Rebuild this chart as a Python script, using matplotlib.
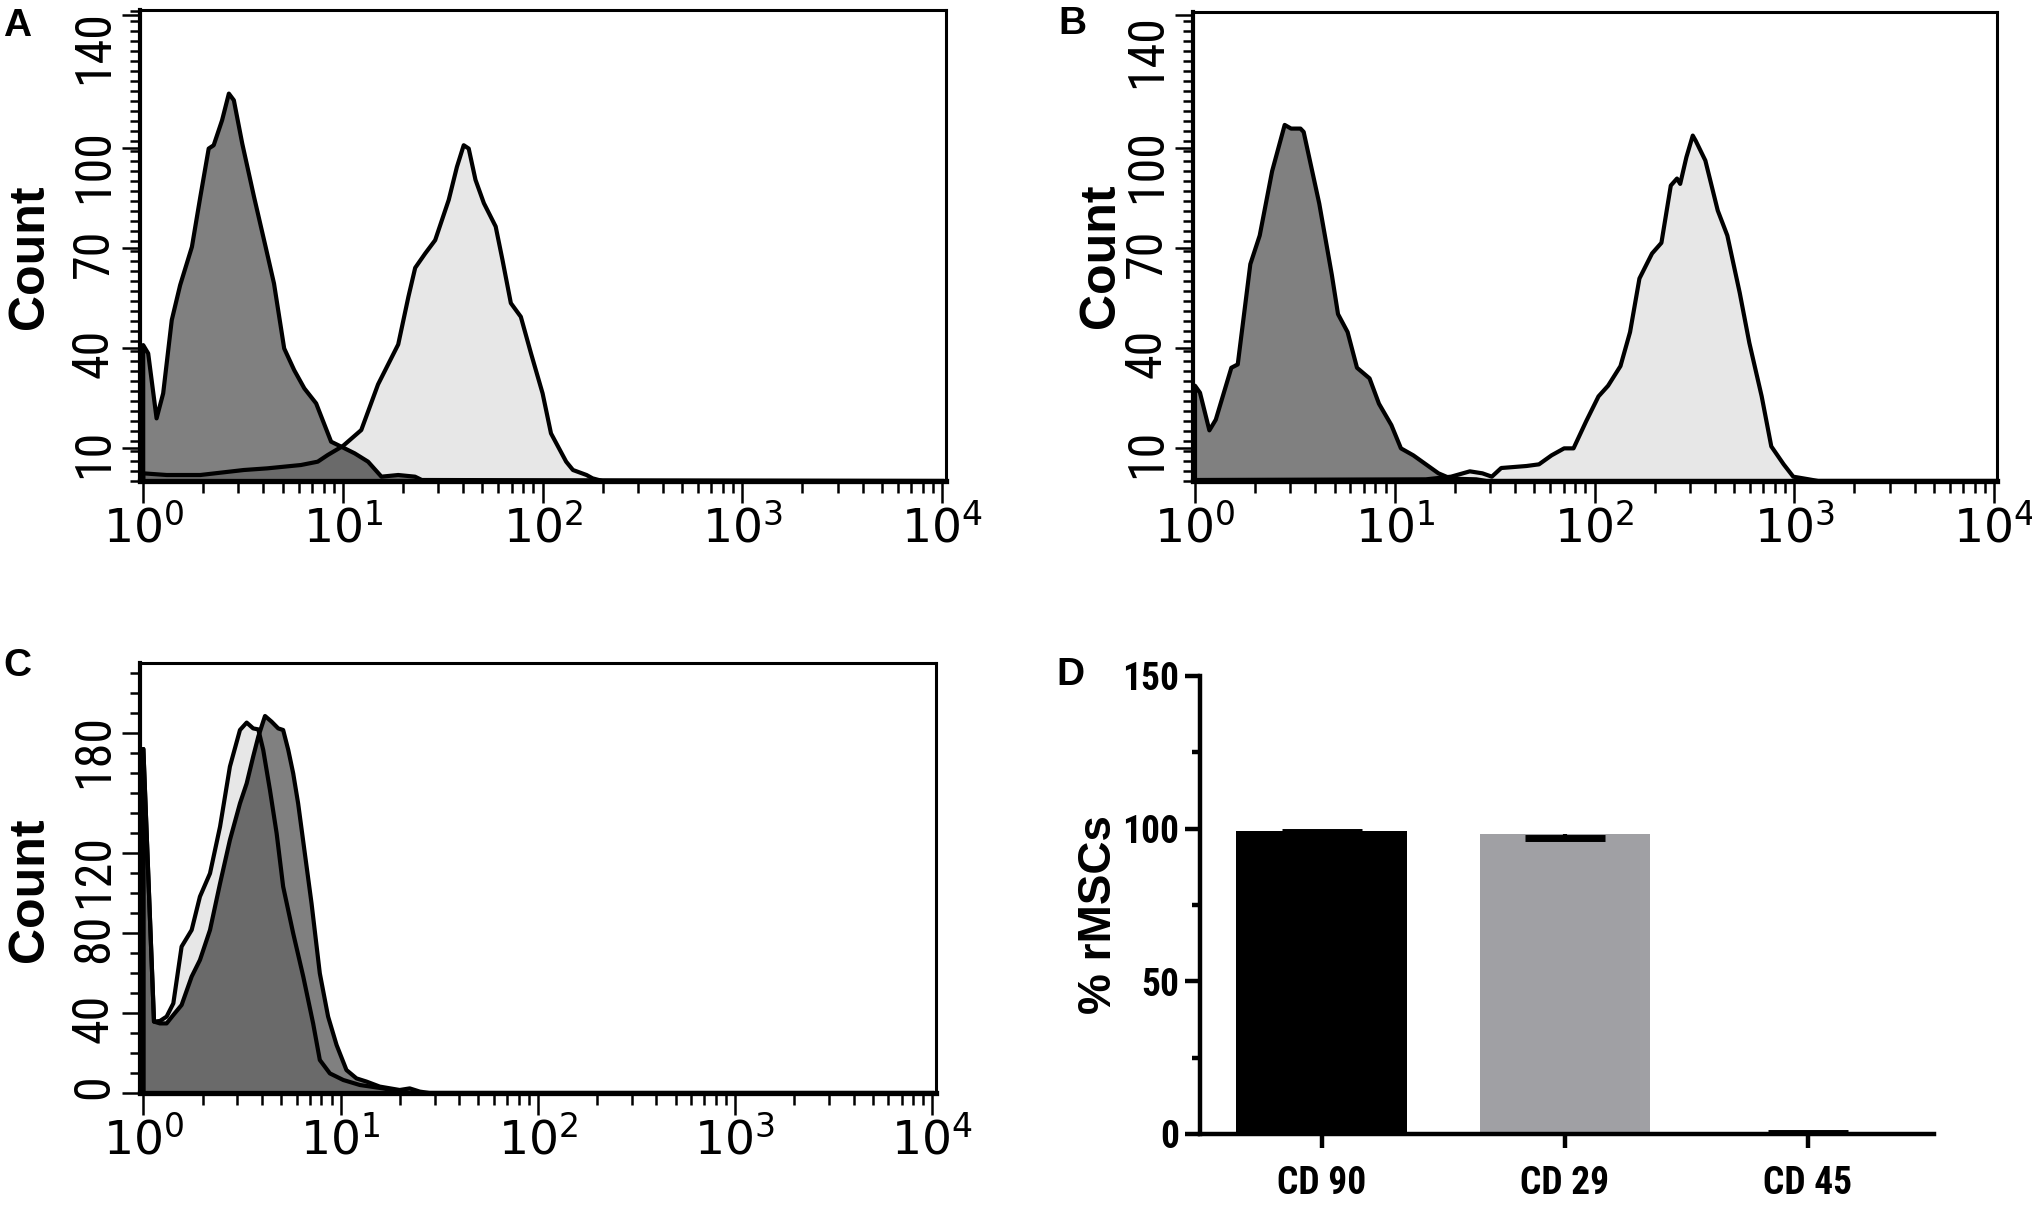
import numpy as np
import matplotlib
matplotlib.use("Agg")
import matplotlib.pyplot as plt
from matplotlib import font_manager
from matplotlib.transforms import blended_transform_factory, offset_copy
from matplotlib.ticker import FixedLocator, LogLocator, MultipleLocator, NullFormatter, FixedFormatter

# ---------------- data ----------------
# Panel A: isotype (dark) and CD90 (light); x as log10 fluorescence, y count
a_iso_log = [0, 0.025, 0.067, 0.10, 0.143, 0.185, 0.244, 0.286, 0.328, 0.353, 0.395, 0.429, 0.454,
             0.496, 0.555, 0.613, 0.655, 0.706, 0.756, 0.807, 0.866, 0.941, 0.992, 1.059, 1.126,
             1.193, 1.277, 1.361, 1.395, 4.0]
a_iso_cnt = [40.8, 38.3, 18.8, 26.3, 48.3, 58.8, 70.3, 85.3, 99.8, 100.8, 108.3, 116.3, 114.3,
             101.3, 85.3, 70.3, 59.3, 39.8, 33.3, 27.8, 23.3, 11.8, 10.3, 8.3, 5.8,
             1.3, 1.8, 1.3, 0.3, 0]
a_cd90_log = [0, 0.118, 0.286, 0.504, 0.622, 0.790, 0.874, 0.924, 1.0, 1.092, 1.176, 1.277, 1.328,
              1.362, 1.412, 1.462, 1.53, 1.571, 1.605, 1.630, 1.664, 1.706, 1.765, 1.799, 1.841,
              1.891, 1.942, 2.0, 2.042, 2.118, 2.152, 2.22, 2.25, 2.30, 4.0]
a_cd90_cnt = [2.3, 1.8, 1.8, 3.3, 3.8, 4.8, 5.8, 7.8, 10.5, 15.3, 29.0, 41.0, 55.3,
              64.0, 68.3, 72.3, 84.4, 94.3, 100.8, 99.8, 90.4, 83.4, 76.4, 66.4, 53.4,
              49.3, 38.3, 26.3, 14.3, 5.8, 3.3, 1.8, 0.8, 0, 0]

# Panel B: isotype (dark) and CD29 (light)
b_iso_log = [0, 0.025, 0.072, 0.104, 0.182, 0.214, 0.277, 0.324, 0.386, 0.449, 0.481, 0.528, 0.544,
             0.622, 0.685, 0.716, 0.764, 0.811, 0.874, 0.921, 0.983, 1.031, 1.093, 1.156, 1.219,
             1.282, 1.408, 1.46, 4.0]
b_iso_cnt = [28.6, 26.5, 15.2, 18.4, 34.0, 35.0, 65.1, 73.7, 93.0, 106.9, 105.8, 105.8, 104.8,
             83.3, 61.9, 50.1, 44.7, 34.0, 30.8, 23.2, 16.8, 9.8, 7.7, 5.0, 2.3,
             0.7, 0.5, 0, 0]
b_cd29_log = [0, 1.156, 1.282, 1.376, 1.439, 1.486, 1.533, 1.659, 1.722, 1.785, 1.848, 1.895, 1.958,
              2.020, 2.068, 2.130, 2.178, 2.225, 2.288, 2.335, 2.382, 2.413, 2.429, 2.460, 2.492,
              2.507, 2.555, 2.617, 2.665, 2.727, 2.775, 2.837, 2.885, 2.947, 2.995, 3.073, 3.12, 4.0]
b_cd29_cnt = [0.3, 0.5, 1.3, 2.9, 2.3, 1.3, 3.9, 4.5, 5.0, 7.7, 9.8, 9.8, 17.9,
              25.4, 28.6, 34.5, 44.7, 60.8, 68.3, 71.5, 88.7, 90.8, 89.2, 97.2, 103.7,
              102.1, 96.2, 81.2, 73.7, 56.5, 41.5, 25.4, 10.4, 5.0, 1.3, 0.5, 0, 0]

# Panel C: isotype (dark) and CD45 (light)
c_iso_log = [0, 0.054, 0.084, 0.118, 0.152, 0.194, 0.245, 0.287, 0.338, 0.389, 0.439, 0.490, 0.524,
             0.557, 0.583, 0.617, 0.650, 0.684, 0.709, 0.735, 0.760, 0.785, 0.819, 0.853, 0.895,
             0.937, 0.980, 1.030, 1.081, 1.132, 1.199, 1.30, 1.351, 1.402, 1.45, 4.0]
c_iso_cnt = [172, 35.7, 34.8, 34.8, 39, 44, 58.2, 66.5, 81.5, 104.8, 126.5, 144.8, 154.8,
             168.2, 178.2, 188.5, 185.7, 182.3, 181.5, 171.5, 159.8, 144.8, 119.8, 94.8, 59.8,
             38.2, 24, 11.5, 7.3, 5.7, 3.2, 1.5, 2.3, 0.7, 0, 0]
c_cd45_log = [0, 0.054, 0.084, 0.118, 0.152, 0.194, 0.245, 0.287, 0.338, 0.389, 0.439, 0.490, 0.524,
              0.557, 0.583, 0.608, 0.642, 0.676, 0.709, 0.760, 0.811, 0.861, 0.895, 0.946, 1.014,
              1.098, 1.216, 1.30, 1.35, 4.0]
c_cd45_cnt = [172, 35.7, 36, 38.2, 44.8, 73.2, 81.5, 98.2, 109.8, 133.2, 163.2, 181.5, 185.2,
              182.3, 181.8, 171.5, 151.5, 129.8, 103.2, 79.8, 58.2, 34.8, 16.5, 9.8, 6.5,
              4, 2.3, 0.7, 0, 0]

# Panel D: % rMSCs
d_categories = ["CD 90", "CD 29", "CD 45"]
d_means = [99.3, 98.2, 0.9]
d_err_low = [0.3, 1.1, 0.5]

# axis tick labels
ab_yticks = [10, 40, 70, 100, 140]
c_yticks = [0, 40, 80, 120, 180]
d_yticks = [0, 50, 100, 150]

# ---------------- fonts ----------------
FL = font_manager.fontManager.ttflist
FAMS = {f.name for f in FL}

def _w(f):
    w = f.weight
    if isinstance(w, str):
        return 700 if "bold" in w.lower() else 400
    return w

def pick_file(cands, bold):
    for c in cands:
        ents = [f for f in FL if f.name == c and f.style == "normal"]
        if not ents:
            continue
        if bold:
            b = [f for f in ents if _w(f) >= 700]
            if b:
                b.sort(key=lambda f: abs(_w(f) - 700))
                return b[0].fname
        else:
            r = [f for f in ents if _w(f) == 400]
            if r:
                return r[0].fname
    return None

NARROW_REG = pick_file(["Liberation Sans Narrow", "Roboto Condensed", "Archivo Narrow",
                        "Barlow Semi Condensed", "Barlow Condensed"], bold=False)
NARROW_BOLD = pick_file(["Liberation Sans Narrow", "Roboto Condensed", "Arimo Narrow",
                         "Barlow Semi Condensed", "Barlow Condensed", "Asap Condensed"], bold=True)
SANS = "Liberation Sans" if "Liberation Sans" in FAMS else "DejaVu Sans"

def fp_narrow(size, bold=False):
    fn = NARROW_BOLD if bold else NARROW_REG
    if fn:
        return font_manager.FontProperties(fname=fn, size=size)
    return font_manager.FontProperties(family="DejaVu Sans", size=size * 0.8,
                                       weight="bold" if bold else "normal")

plt.rcParams["font.family"] = ["DejaVu Sans"]
plt.rcParams["mathtext.fontset"] = "dejavusans"

W, H = 2033, 1208
fig = plt.figure(figsize=(W / 100, H / 100), dpi=100)

def rect(l, r, t, b):
    return [l / W, (H - b) / H, (r - l) / W, (b - t) / H]

LIGHT = "#e7e7e7"
DARK = "#808080"
OVER = "#6a6a6a"
YLAB_SIZE = 36

def histo(ax, log_l, cnt_l, log_d, cnt_d, xlim_log, ylim, yticks, ymin_step, top_label_y=None):
    xl = np.r_[10 ** np.array(log_l[:1]), 10 ** np.array(log_l)]
    yl = np.r_[0, np.array(cnt_l)]
    xd = np.r_[10 ** np.array(log_d[:1]), 10 ** np.array(log_d)]
    yd = np.r_[0, np.array(cnt_d)]
    ax.set_xscale("log")
    ax.fill_between(xl, yl, 0, color=LIGHT, lw=0, zorder=1)
    pd = ax.fill_between(xd, yd, 0, color=DARK, lw=0, zorder=1.1)
    ov = ax.fill_between(xl, yl, 0, color=OVER, lw=0, zorder=1.2)
    ov.set_clip_path(pd.get_paths()[0], pd.get_transform())
    ax.plot(xl, yl, color="black", lw=3.0, zorder=2, solid_joinstyle="round")
    ax.plot(xd, yd, color="black", lw=3.0, zorder=2, solid_joinstyle="round")
    ax.set_xlim(10 ** xlim_log[0], 10 ** xlim_log[1])
    ax.set_ylim(*ylim)
    ax.xaxis.set_major_locator(FixedLocator([1, 10, 100, 1000, 10000]))
    ax.xaxis.set_minor_locator(LogLocator(base=10, subs=np.arange(2, 10), numticks=20))
    ax.xaxis.set_minor_formatter(NullFormatter())
    ax.xaxis.set_major_formatter(FixedFormatter([r"$10^{0}$", r"$10^{1}$", r"$10^{2}$", r"$10^{3}$", r"$10^{4}$"]))
    ax.yaxis.set_major_locator(FixedLocator(yticks))
    labels = [str(v) for v in yticks]
    if top_label_y is not None:
        labels[-1] = ""
    ax.yaxis.set_major_formatter(FixedFormatter(labels))
    ax.yaxis.set_minor_locator(MultipleLocator(ymin_step))
    ax.tick_params(axis="x", which="major", direction="out", length=16, width=1.8, pad=1,
                   labelsize=34, top=False)
    ax.tick_params(axis="x", which="minor", direction="out", length=8.5, width=1.8, top=False)
    ax.tick_params(axis="y", which="major", direction="out", length=13, width=1.8, pad=3,
                   labelrotation=90, right=False)
    ax.tick_params(axis="y", which="minor", direction="out", length=7, width=1.8, right=False)
    for lab in ax.get_yticklabels():
        lab.set_fontproperties(fp_narrow(YLAB_SIZE))
    if top_label_y is not None:
        # the top label is pushed down inside the frame, as in the original
        tr = offset_copy(blended_transform_factory(ax.transAxes, ax.transAxes), fig=fig,
                         x=-(13 + 3), y=0, units="points")
        ax.text(0, top_label_y, str(yticks[-1]), transform=tr, rotation=90,
                ha="right", va="center", fontproperties=fp_narrow(YLAB_SIZE))
    ax.spines["top"].set_linewidth(2.2)
    ax.spines["right"].set_linewidth(2.2)
    ax.spines["left"].set_linewidth(3.0)
    ax.spines["bottom"].set_linewidth(3.8)
    for s in ax.spines.values():
        s.set_zorder(3)

# Panel A
axA = fig.add_axes(rect(140, 946, 10, 481))
histo(axA, a_cd90_log, a_cd90_cnt, a_iso_log, a_iso_cnt, (-0.016, 4.02), (0, 141.4),
      ab_yticks, 3, top_label_y=0.921)
axA.set_ylabel("Count", family=SANS, weight="bold", size=36)
axA.yaxis.set_label_coords(-0.108, 0.476)

# Panel B
axB = fig.add_axes(rect(1193, 1997, 12, 481))
histo(axB, b_cd29_log, b_cd29_cnt, b_iso_log, b_iso_cnt, (-0.01, 4.015), (0, 140.8),
      ab_yticks, 3, top_label_y=0.917)
axB.set_ylabel("Count", family=SANS, weight="bold", size=36)
axB.yaxis.set_label_coords(-0.086, 0.48)

# Panel C
axC = fig.add_axes(rect(140, 936, 663, 1093))
histo(axC, c_cd45_log, c_cd45_cnt, c_iso_log, c_iso_cnt, (-0.017, 4.02), (0, 215),
      c_yticks, 10)
axC.set_ylabel("Count", family=SANS, weight="bold", size=36)
axC.yaxis.set_label_coords(-0.109, 0.472)

# Panel D
axD = fig.add_axes(rect(1200, 1934, 676, 1134))
xpos = np.arange(len(d_categories))
bar_colors = ["#000000", "#a0a0a4", "#ffffff"]
axD.bar(xpos, d_means, width=0.7, color=bar_colors, zorder=1)
for xi, m, lo in zip(xpos, d_means, d_err_low):
    eb = axD.errorbar([xi], [m], yerr=[[lo], [0]], fmt="none", ecolor="black",
                      elinewidth=3, capsize=28.5, capthick=5, zorder=2)
    for cl in eb[1]:
        if np.allclose(cl.get_ydata(), m):
            cl.set_visible(False)
axD.set_xlim(-0.5, 2.52)
axD.set_ylim(0, 150)
axD.set_xticks(xpos)
axD.set_xticklabels(d_categories)
axD.set_yticks(d_yticks)
axD.set_yticklabels([str(v) for v in d_yticks])
axD.yaxis.set_minor_locator(FixedLocator([25, 75, 125]))
axD.spines["top"].set_visible(False)
axD.spines["right"].set_visible(False)
axD.spines["left"].set_linewidth(3.2)
axD.spines["bottom"].set_linewidth(3.2)
axD.spines["left"].set_zorder(3)
axD.spines["bottom"].set_zorder(3)
axD.tick_params(axis="y", which="major", direction="out", length=11, width=3.2, pad=4)
axD.tick_params(axis="y", which="minor", direction="out", length=6, width=3.2)
axD.tick_params(axis="x", which="major", direction="out", length=10, width=3.2, pad=12)
for lab in axD.get_yticklabels() + axD.get_xticklabels():
    lab.set_fontproperties(fp_narrow(27, bold=True))
axD.set_ylabel("% rMSCs", family=SANS, weight="bold", size=33)
axD.yaxis.set_label_coords(-0.108, 0.48)

# Panel letters
for letter, (px, py) in zip("ABCD", [(17, 26), (1072, 24), (17, 666), (1070, 675)]):
    fig.text(px / W, 1 - py / H, letter, family=SANS, weight="bold", size=28,
             ha="center", va="center")

fig.savefig("out.png", dpi=100)
